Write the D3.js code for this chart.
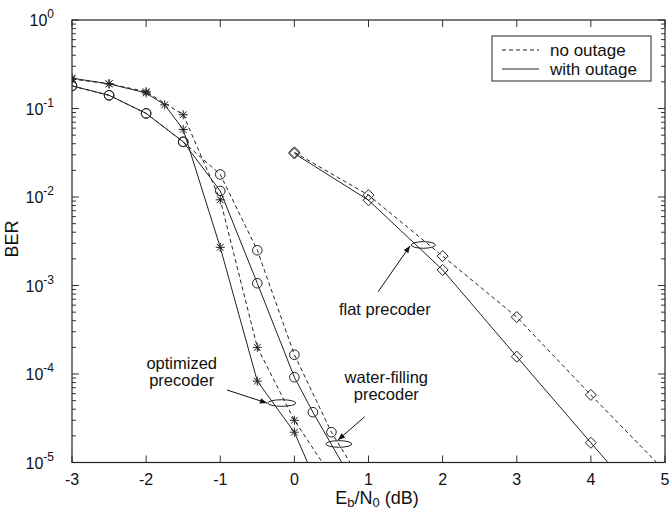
<!DOCTYPE html>
<html>
<head>
<meta charset="utf-8">
<script src="https://cdn.jsdelivr.net/npm/d3@7"></script>
<style>
  body { margin: 0; background: #fff; }
  text { font-family: "Liberation Sans", Arial, sans-serif; fill: #111; }
</style>
</head>
<body>
<svg id="chart" width="671" height="512"></svg>
<script>
// values (BER vs Eb/N0 in dB)
// optimized precoder (stars)
const optX_with = [-3, -2.5, -2, -1.75, -1.5, -1, -0.5, 0, 0.5];
const optY_with = [0.22, 0.19, 0.15, 0.11, 0.058, 0.0027, 8.3e-5, 2.2e-5, 2.4e-6];
const optX_no = [-3, -2.5, -2, -1.5, -1, -0.5, 0, 0.5];
const optY_no = [0.215, 0.19, 0.155, 0.085, 0.0093, 2.0e-4, 3.0e-5, 7e-6];
// water-filling precoder (circles)
const wfX_with = [-3, -2.5, -2, -1.5, -1, -0.5, 0, 0.25, 0.75];
const wfY_with = [0.18, 0.141, 0.088, 0.042, 0.0117, 1.06e-3, 9.2e-5, 3.7e-5, 6.9e-6];
const wfX_no = [-3, -2.5, -2, -1.5, -1, -0.5, 0, 0.5, 1];
const wfY_no = [0.18, 0.141, 0.088, 0.042, 0.018, 2.5e-3, 1.65e-4, 2.2e-5, 4.6e-6];
// flat precoder (diamonds)
const flatX_with = [0, 1, 2, 3, 4, 4.5];
const flatY_with = [0.031, 0.0092, 1.5e-3, 1.57e-4, 1.67e-5, 5.5e-6];
const flatX_no = [0, 1, 2, 3, 4, 5];
const flatY_no = [0.032, 0.0105, 2.15e-3, 4.4e-4, 5.8e-5, 8e-6];

const xTicks = [-3, -2, -1, 0, 1, 2, 3, 4, 5];
const yExps = [0, -1, -2, -3, -4, -5];
const legendLabels = ["no outage", "with outage"];

const series = [
  { x: optX_with, y: optY_with, marker: "star", dash: false },
  { x: optX_no, y: optY_no, marker: "star", dash: true },
  { x: wfX_with, y: wfY_with, marker: "circle", dash: false },
  { x: wfX_no, y: wfY_no, marker: "circle", dash: true },
  { x: flatX_with, y: flatY_with, marker: "diamond", dash: false },
  { x: flatX_no, y: flatY_no, marker: "diamond", dash: true }
];

// annotations: label lines, label anchor, arrow start/end, ellipse centre (all in data units)
const notes = [
  { lines: ["optimized", "precoder"], tx: -1.52, ty: 1.15e-4,
    ax1: -0.91, ay1: 6.6e-5, ax2: -0.37, ay2: 4.7e-5, ex: -0.17, ey: 4.7e-5, rx: 14 },
  { lines: ["water-filling", "precoder"], tx: 1.24, ty: 8.0e-5,
    ax1: 0.95, ay1: 3.3e-5, ax2: 0.59, ay2: 1.8e-5, ex: 0.60, ey: 1.62e-5, rx: 13 },
  { lines: ["flat precoder"], tx: 1.22, ty: 4.6e-4,
    ax1: 1.13, ay1: 8.5e-4, ax2: 1.56, ay2: 2.8e-3, ex: 1.74, ey: 2.87e-3, rx: 12 }
];

const svg = d3.select("#chart");
const pLeft = 72, pRight = 665, pTop = 20, pBottom = 462.5;

const x = d3.scaleLinear().domain([-3, 5]).range([pLeft, pRight]);
const y = d3.scaleLog().domain([1e-5, 1]).range([pBottom, pTop]);

const defs = svg.append("defs");
defs.append("clipPath").attr("id", "plotclip")
  .append("rect").attr("x", pLeft).attr("y", pTop)
  .attr("width", pRight - pLeft).attr("height", pBottom - pTop);

defs.append("marker")
  .attr("id", "arrow").attr("viewBox", "0 0 10 10")
  .attr("refX", 10).attr("refY", 5)
  .attr("markerWidth", 9).attr("markerHeight", 7)
  .attr("markerUnits", "userSpaceOnUse")
  .attr("orient", "auto")
  .append("path").attr("d", "M0,1 L10,5 L0,9 Z").attr("fill", "#111");

// ticks (inward, both sides)
const ax = svg.append("g").attr("stroke", "#333").attr("stroke-width", 1);
xTicks.forEach(t => {
  ax.append("line").attr("x1", x(t)).attr("x2", x(t)).attr("y1", pBottom).attr("y2", pBottom - 7);
  ax.append("line").attr("x1", x(t)).attr("x2", x(t)).attr("y1", pTop).attr("y2", pTop + 7);
});
yExps.forEach(e => {
  const v = Math.pow(10, e);
  ax.append("line").attr("x1", pLeft).attr("x2", pLeft + 7).attr("y1", y(v)).attr("y2", y(v));
  ax.append("line").attr("x1", pRight).attr("x2", pRight - 7).attr("y1", y(v)).attr("y2", y(v));
  if (e < 0) {
    for (let k = 2; k <= 9; k++) {
      const m = k * v;
      ax.append("line").attr("x1", pLeft).attr("x2", pLeft + 4).attr("y1", y(m)).attr("y2", y(m));
      ax.append("line").attr("x1", pRight).attr("x2", pRight - 4).attr("y1", y(m)).attr("y2", y(m));
    }
  }
});

svg.append("rect").attr("x", pLeft).attr("y", pTop)
  .attr("width", pRight - pLeft).attr("height", pBottom - pTop)
  .attr("fill", "none").attr("stroke", "#222").attr("stroke-width", 1.2);

// tick labels
svg.append("g").selectAll("text").data(xTicks).join("text")
  .attr("x", d => x(d)).attr("y", pBottom + 22)
  .attr("text-anchor", "middle").attr("font-size", 16)
  .text(d => d);

const yl = svg.append("g").selectAll("text").data(yExps).join("text")
  .attr("x", pLeft - 18).attr("y", d => y(Math.pow(10, d)) + 6)
  .attr("text-anchor", "end").attr("font-size", 16);
yl.append("tspan").text("10");
yl.append("tspan").attr("dy", -8).attr("font-size", 12).text(d => d === 0 ? "0" : "-" + (-d));

// axis titles
svg.append("text").attr("transform", "translate(18,239) rotate(-90)")
  .attr("text-anchor", "middle").attr("font-size", 18).text("BER");

const xt = svg.append("text").attr("x", 377).attr("y", 504)
  .attr("text-anchor", "middle").attr("font-size", 18);
xt.append("tspan").text("E");
xt.append("tspan").attr("font-size", 13).attr("dy", 3).text("b");
xt.append("tspan").attr("dy", -3).text("/N");
xt.append("tspan").attr("font-size", 13).attr("dy", 3).text("0");
xt.append("tspan").attr("dy", -3).text(" (dB)");

// curves
const line = d3.line().x(d => x(d[0])).y(d => y(d[1]));
const plot = svg.append("g").attr("clip-path", "url(#plotclip)");

series.forEach(s => {
  const pts = s.x.map((v, i) => [v, s.y[i]]);
  plot.append("path").datum(pts)
    .attr("d", line).attr("fill", "none")
    .attr("stroke", "#222").attr("stroke-width", 1)
    .attr("stroke-dasharray", s.dash ? "4,3" : null);
});

function drawMarker(g, type, cx, cy) {
  if (type === "circle") {
    g.append("circle").attr("cx", cx).attr("cy", cy).attr("r", 4.8)
      .attr("fill", "none").attr("stroke", "#222").attr("stroke-width", 1);
  } else if (type === "diamond") {
    const r = 5.5;
    g.append("path").attr("d", `M${cx},${cy - r}L${cx + r},${cy}L${cx},${cy + r}L${cx - r},${cy}Z`)
      .attr("fill", "none").attr("stroke", "#222").attr("stroke-width", 1);
  } else {
    const r = 4.5, d = 3.4;
    g.append("path").attr("d",
      `M${cx - r},${cy}L${cx + r},${cy}M${cx},${cy - r}L${cx},${cy + r}` +
      `M${cx - d},${cy - d}L${cx + d},${cy + d}M${cx - d},${cy + d}L${cx + d},${cy - d}`)
      .attr("fill", "none").attr("stroke", "#222").attr("stroke-width", 1);
  }
}

series.forEach(s => {
  s.x.forEach((v, i) => {
    if (s.y[i] >= 1e-5) drawMarker(plot, s.marker, x(v), y(s.y[i]));
  });
});

// annotations
notes.forEach(n => {
  svg.append("ellipse").attr("cx", x(n.ex)).attr("cy", y(n.ey))
    .attr("rx", n.rx).attr("ry", 3.3)
    .attr("fill", "none").attr("stroke", "#222").attr("stroke-width", 1);
  svg.append("line").attr("x1", x(n.ax1)).attr("y1", y(n.ay1))
    .attr("x2", x(n.ax2)).attr("y2", y(n.ay2))
    .attr("stroke", "#111").attr("stroke-width", 1)
    .attr("marker-end", "url(#arrow)");
  n.lines.forEach((t, i) => {
    svg.append("text").attr("x", x(n.tx)).attr("y", y(n.ty) + i * 17)
      .attr("text-anchor", "middle").attr("font-size", 16.5).text(t);
  });
});

// legend
const lg = svg.append("g");
lg.append("rect").attr("x", pRight - 173).attr("y", 36).attr("width", 159).attr("height", 45)
  .attr("fill", "#fff").attr("stroke", "#222").attr("stroke-width", 1);
legendLabels.forEach((lab, i) => {
  const ly = 50 + i * 19;
  lg.append("line").attr("x1", pRight - 163).attr("x2", pRight - 126)
    .attr("y1", ly).attr("y2", ly)
    .attr("stroke", "#222").attr("stroke-width", 1)
    .attr("stroke-dasharray", i === 0 ? "4,3" : null);
  lg.append("text").attr("x", pRight - 115).attr("y", ly + 6)
    .attr("font-size", 17).text(lab);
});
</script>
</body>
</html>
